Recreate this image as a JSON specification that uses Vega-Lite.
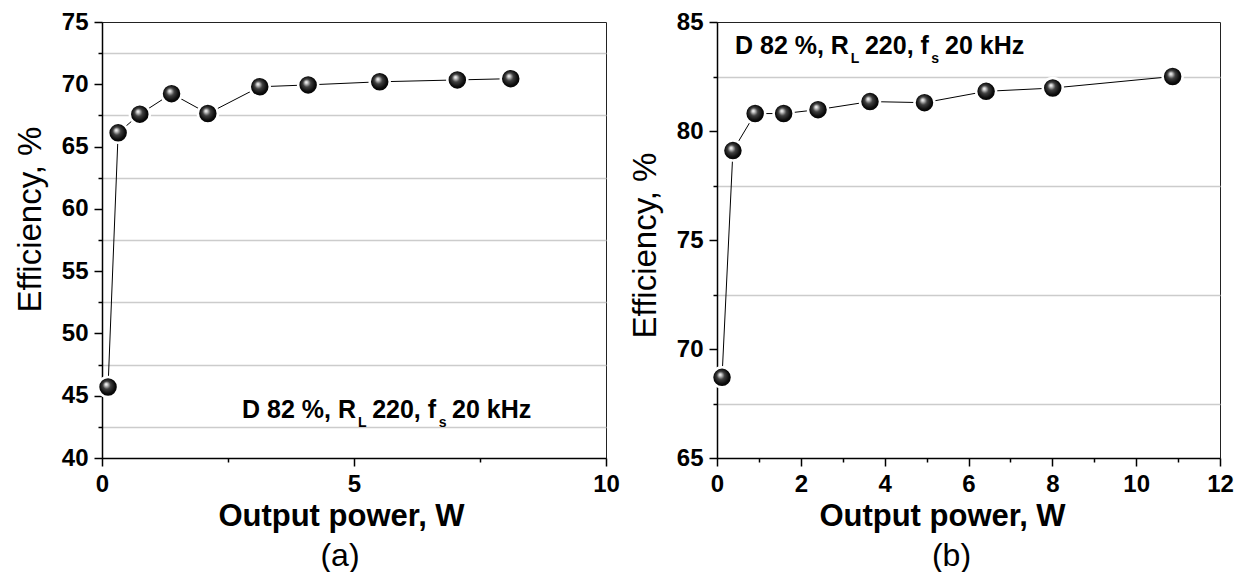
{
  "$schema": "https://vega.github.io/schema/vega-lite/v6.json",
  "background": "white",
  "padding": {"left": 13, "top": 9, "right": 0, "bottom": 0},
  "config": {
    "font": "Liberation Sans",
    "view": {"stroke": "#222222", "strokeWidth": 1},
    "axis": {
      "labelFont": "Liberation Sans",
      "labelFontSize": 24,
      "labelFontWeight": "bold",
      "labelColor": "black",
      "labelFlush": false,
      "labelOverlap": false,
      "tickColor": "black",
      "tickWidth": 1.5,
      "domainColor": "black",
      "domainWidth": 1.5,
      "titleFont": "Liberation Sans",
      "titleColor": "black",
      "gridColor": "#cccccc",
      "gridWidth": 1.5
    },
    "title": {"font": "Liberation Sans", "color": "black"}
  },
  "datasets": {
    "a": [
      {"power": 0.12, "eff": 45.7},
      {"power": 0.32, "eff": 66.1},
      {"power": 0.75, "eff": 67.6},
      {"power": 1.38, "eff": 69.25},
      {"power": 2.1, "eff": 67.65},
      {"power": 3.13, "eff": 69.8},
      {"power": 4.09, "eff": 69.95},
      {"power": 5.51, "eff": 70.2},
      {"power": 7.05, "eff": 70.35},
      {"power": 8.11, "eff": 70.45}
    ],
    "b": [
      {"power": 0.12, "eff": 68.7},
      {"power": 0.38, "eff": 79.1},
      {"power": 0.91, "eff": 80.8},
      {"power": 1.59, "eff": 80.8},
      {"power": 2.41, "eff": 80.98},
      {"power": 3.65, "eff": 81.35},
      {"power": 4.95, "eff": 81.3},
      {"power": 6.42, "eff": 81.82},
      {"power": 8.01, "eff": 81.97},
      {"power": 10.87, "eff": 82.5}
    ],
    "noteA": [
      {"t": "D 82 %, R", "px": 2.778, "py": 43.21, "sub": "no"},
      {"t": "L", "px": 5.08, "py": 42.45, "sub": "yes"},
      {"t": "220, f", "px": 5.36, "py": 43.21, "sub": "no"},
      {"t": "s", "px": 6.68, "py": 42.45, "sub": "yes"},
      {"t": "20 kHz", "px": 6.944, "py": 43.21, "sub": "no"}
    ],
    "noteB": [
      {"t": "D 82 %, R", "px": 0.429, "py": 83.53, "sub": "no"},
      {"t": "L", "px": 3.19, "py": 83.1, "sub": "yes"},
      {"t": "220, f", "px": 3.53, "py": 83.53, "sub": "no"},
      {"t": "s", "px": 5.11, "py": 83.1, "sub": "yes"},
      {"t": "20 kHz", "px": 5.439, "py": 83.53, "sub": "no"}
    ]
  },
  "spacing": 111,
  "bounds": "flush",
  "hconcat": [
    {
      "width": 504,
      "height": 436,
      "title": {"text": "(a)", "orient": "bottom", "fontSize": 32, "fontWeight": "normal", "dx": -14, "offset": 10},
      "encoding": {
        "x": {
          "field": "power", "type": "quantitative",
          "scale": {"domain": [0, 10], "nice": false, "zero": false},
          "axis": {
            "values": [0, 2.5, 5, 7.5, 10],
            "format": "d",
            "labelExpr": "datum.value % 5 === 0 ? datum.label : ''",
            "tickSize": {"condition": {"test": "datum.value % 5 !== 0", "value": 4}, "value": 8},
            "labelPadding": 6,
            "grid": false,
            "title": "Output power, W",
            "titleFontSize": 31,
            "titleFontWeight": "bold",
            "titleX": 239,
            "titleY": 67,
            "titleAlign": "center",
            "titleBaseline": "alphabetic"
          }
        },
        "y": {
          "field": "eff", "type": "quantitative",
          "scale": {"domain": [40, 75], "nice": false, "zero": false},
          "axis": {
            "values": [40, 42.5, 45, 47.5, 50, 52.5, 55, 57.5, 60, 62.5, 65, 67.5, 70, 72.5, 75],
            "format": "d",
            "labelExpr": "datum.value % 5 === 0 ? datum.label : ''",
            "tickSize": {"condition": {"test": "datum.value % 5 !== 0", "value": 4}, "value": 8},
            "labelPadding": 6,
            "grid": true,
            "gridOpacity": {"condition": {"test": "datum.value % 5 !== 0", "value": 1}, "value": 0},
            "title": "Efficiency,  %",
            "titleFontSize": 33,
            "titleFontWeight": "normal",
            "titleAngle": -90,
            "titleX": -62,
            "titleY": 197,
            "titleAlign": "center",
            "titleBaseline": "alphabetic"
          }
        }
      },
      "layer": [
        {"data": {"name": "a"}, "mark": {"type": "line", "color": "black", "strokeWidth": 1}},
        {"data": {"name": "a"}, "mark": {"type": "point", "shape": "circle", "filled": true, "size": 400, "opacity": 1, "fillOpacity": 1, "stroke": "white", "strokeWidth": 2.5,
          "fill": {"gradient": "radial", "x1": 0.4, "y1": 0.36, "r1": 0, "x2": 0.5, "y2": 0.5, "r2": 0.55,
            "stops": [{"offset": 0, "color": "#ffffff"}, {"offset": 0.12, "color": "#cfcfcf"}, {"offset": 0.36, "color": "#404040"}, {"offset": 0.7, "color": "#0a0a0a"}, {"offset": 1, "color": "#000000"}]}}},
        {"data": {"name": "noteA"}, "mark": {"type": "text", "align": "left", "baseline": "alphabetic", "fontWeight": "bold", "color": "black"},
          "encoding": {
            "x": {"field": "px", "type": "quantitative"},
            "y": {"field": "py", "type": "quantitative"},
            "text": {"field": "t"},
            "size": {"field": "sub", "type": "nominal", "scale": {"domain": ["no", "yes"], "range": [25, 14]}, "legend": null}
          }}
      ]
    },
    {
      "width": 503,
      "height": 436,
      "title": {"text": "(b)", "orient": "bottom", "fontSize": 32, "fontWeight": "normal", "dx": -17, "offset": 10},
      "encoding": {
        "x": {
          "field": "power", "type": "quantitative",
          "scale": {"domain": [0, 12], "nice": false, "zero": false},
          "axis": {
            "values": [0, 1, 2, 3, 4, 5, 6, 7, 8, 9, 10, 11, 12],
            "format": "d",
            "labelExpr": "datum.value % 2 === 0 ? datum.label : ''",
            "tickSize": {"condition": {"test": "datum.value % 2 !== 0", "value": 4}, "value": 8},
            "labelPadding": 6,
            "grid": false,
            "title": "Output power, W",
            "titleFontSize": 31,
            "titleFontWeight": "bold",
            "titleX": 225,
            "titleY": 67,
            "titleAlign": "center",
            "titleBaseline": "alphabetic"
          }
        },
        "y": {
          "field": "eff", "type": "quantitative",
          "scale": {"domain": [65, 85], "nice": false, "zero": false},
          "axis": {
            "values": [65, 67.5, 70, 72.5, 75, 77.5, 80, 82.5, 85],
            "format": "d",
            "labelExpr": "datum.value % 5 === 0 ? datum.label : ''",
            "tickSize": {"condition": {"test": "datum.value % 5 !== 0", "value": 4}, "value": 8},
            "labelPadding": 6,
            "grid": true,
            "gridOpacity": {"condition": {"test": "datum.value % 5 !== 0", "value": 1}, "value": 0},
            "title": "Efficiency,  %",
            "titleFontSize": 33,
            "titleFontWeight": "normal",
            "titleAngle": -90,
            "titleX": -62,
            "titleY": 223,
            "titleAlign": "center",
            "titleBaseline": "alphabetic"
          }
        }
      },
      "layer": [
        {"data": {"name": "b"}, "mark": {"type": "line", "color": "black", "strokeWidth": 1}},
        {"data": {"name": "b"}, "mark": {"type": "point", "shape": "circle", "filled": true, "size": 400, "opacity": 1, "fillOpacity": 1, "stroke": "white", "strokeWidth": 2.5,
          "fill": {"gradient": "radial", "x1": 0.4, "y1": 0.36, "r1": 0, "x2": 0.5, "y2": 0.5, "r2": 0.55,
            "stops": [{"offset": 0, "color": "#ffffff"}, {"offset": 0.12, "color": "#cfcfcf"}, {"offset": 0.36, "color": "#404040"}, {"offset": 0.7, "color": "#0a0a0a"}, {"offset": 1, "color": "#000000"}]}}},
        {"data": {"name": "noteB"}, "mark": {"type": "text", "align": "left", "baseline": "alphabetic", "fontWeight": "bold", "color": "black"},
          "encoding": {
            "x": {"field": "px", "type": "quantitative"},
            "y": {"field": "py", "type": "quantitative"},
            "text": {"field": "t"},
            "size": {"field": "sub", "type": "nominal", "scale": {"domain": ["no", "yes"], "range": [25, 14]}, "legend": null}
          }}
      ]
    }
  ]
}
